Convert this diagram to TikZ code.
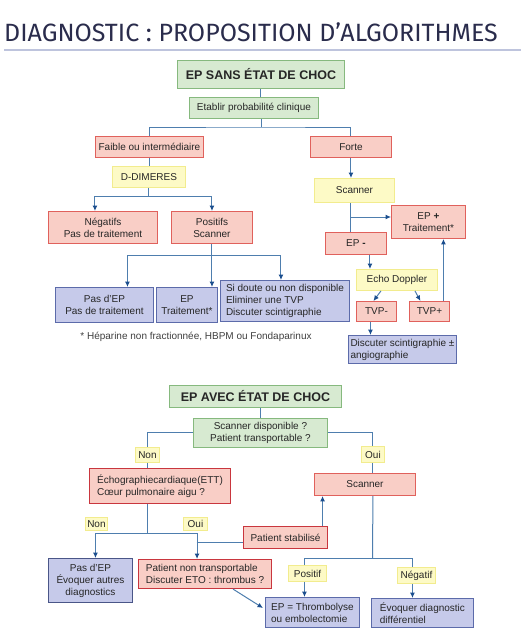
\documentclass[tikz,border=0pt]{standalone}
\usepackage{fontspec}
\setmainfont{Liberation Sans}
\newfontfamily\titrefont{Fira Sans}
\usetikzlibrary{arrows.meta, positioning, calc}

\definecolor{vertF}{HTML}{D7EAD1}
\definecolor{vertB}{HTML}{86B97E}
\definecolor{rougeF}{HTML}{F9CEC6}
\definecolor{rougeB}{HTML}{E0615C}
\definecolor{rougeD}{HTML}{C9363E}
\definecolor{jauneF}{HTML}{FDFAC6}
\definecolor{jauneB}{HTML}{F2EC8E}
\definecolor{bleuF}{HTML}{C6CAEA}
\definecolor{bleuB}{HTML}{5C6BAA}
\definecolor{lienC}{HTML}{4E7EAE}
\definecolor{flecheC}{HTML}{1B4E8E}
\definecolor{titreC}{HTML}{2A2C4C}

\begin{document}
\begin{tikzpicture}[x=1pt, y=-1pt, font=\fontsize{10}{12}\selectfont,
    boite/.style={anchor=north west, inner sep=1pt, line width=0.9pt, align=center, text=black!85},
    vert/.style={boite, draw=vertB, fill=vertF},
    rouge/.style={boite, draw=rougeB, fill=rougeF},
    rougefort/.style={boite, draw=rougeD, fill=rougeF, line width=1.1pt},
    jaune/.style={boite, draw=jauneB, fill=jauneF},
    bleu/.style={boite, draw=bleuB, fill=bleuF},
    gras/.style={font=\fontsize{12.5}{14}\selectfont\bfseries},
    lien/.style={draw=lienC, line width=1pt},
    fl/.style={lien, -{Latex[length=5.5pt, width=5pt, color=flecheC]}}]
    \useasboundingbox[fill=white] (0,0) rectangle (526,640);
    % titre
    \node[anchor=west, inner sep=0pt, text=titreC, font=\titrefont\fontsize{25}{26}\selectfont] (titre) at (4,32) {DIAGNOSTIC : PROPOSITION D’ALGORITHMES};
    \draw[line width=1.8pt, draw=bleuB!40] (titre.south west |- 0,50) -- (521,50);

    % EP sans etat de choc
    \node[vert, gras, minimum width=167, minimum height=28] (titre1) at (177,60) {EP SANS ÉTAT DE CHOC};
    \node[vert, minimum width=129, minimum height=21] (proba) at (189,97) {Etablir probabilité clinique};
    \node[rouge, minimum width=108, minimum height=21] (faible) at (95,136) {Faible ou intermédiaire};
    \node[rouge, minimum width=81, minimum height=21] (forte) at (310,136) {Forte};
    \node[jaune, minimum width=73, minimum height=21] (ddim) at (112,166) {D-DIMERES};
    \node[rouge, minimum width=109, minimum height=32] (neg) at (48,211) {Négatifs\\Pas de traitement};
    \node[rouge, minimum width=81, minimum height=32] (pos) at (171,211) {Positifs\\Scanner};
    \node[bleu, minimum width=98, minimum height=35] (pasep) at (55,287) {Pas d'EP\\Pas de traitement};
    \node[bleu, minimum width=61, minimum height=35] (eptr) at (156,287) {EP\\Traitement*};
    \node[bleu, minimum width=129, minimum height=41, align=left] (doute) at (220,280) {Si doute ou non disponible\\Eliminer une TVP\\Discuter scintigraphie};
    \node[text=black!75] (note) at (196,337) {* Héparine non fractionnée, HBPM ou Fondaparinux};
    \node[jaune, minimum width=80, minimum height=24] (scan1) at (314,178) {Scanner};
    \node[rouge, minimum width=74, minimum height=33] (epplus) at (391,205) {EP \textbf{+}\\Traitement*};
    \node[rouge, minimum width=61, minimum height=22] (epmoins) at (325,232) {EP \textbf{-}};
    \node[jaune, minimum width=81, minimum height=21] (echo) at (356,269) {Echo Doppler};
    \node[rouge, minimum width=40, minimum height=20] (tvpm) at (356,301) {TVP-};
    \node[rouge, minimum width=40, minimum height=20] (tvpp) at (409,301) {TVP+};
    \node[bleu, minimum width=108, minimum height=28, align=left] (scinti) at (348,335) {Discuter scintigraphie ±\\angiographie};

    \draw[lien] (titre1.south) -- (titre1.south |- proba.north);
    \coordinate (j1) at (261,127);
    \draw[lien] (proba.south -| j1) -- (j1);
    \draw[lien] (faible.north) |- (j1) -| (forte.north);
    \draw[fl] (forte.south) -- (forte.south |- scan1.north);
    \draw[lien] (faible.south) -- (faible.south |- ddim.north);
    \draw[fl] (ddim.south) -- ++(0,9) -| ([xshift=-8]neg.north);
    \draw[fl] (ddim.south) ++(0,9) -| (pos.north);
    \draw[fl] (pos.south) -- (pos.south |- eptr.north);
    \draw[fl] (pos.south) ++(0,12) -| ([xshift=23]pasep.north);
    \draw[fl] (pos.south) ++(0,12) -| ([xshift=-4]doute.north);
    \draw[lien] ([xshift=-4]scan1.south) -- ([xshift=-4]scan1.south |- epmoins.north);
    \coordinate (j4) at (350,217);
    \draw[fl] (j4) -- (j4 -| epplus.west);
    \draw[fl] ([xshift=14]epmoins.south) -- ([xshift=14]epmoins.south |- echo.north);
    \draw[fl] ([xshift=-16]echo.south) -- ([xshift=-3]tvpm.north);
    \draw[fl] ([xshift=18]echo.south) -- ([xshift=-9]tvpp.north);
    \draw[fl] ([xshift=14]tvpp.north) -- ([xshift=14]tvpp.north |- epplus.south);
    \draw[fl] ([xshift=-6]tvpm.south) -- ([xshift=-6]tvpm.south |- scinti.north);

    % EP avec etat de choc
    \node[vert, gras, minimum width=172, minimum height=22] (titre2) at (169,385) {EP AVEC ÉTAT DE CHOC};
    \node[vert, minimum width=134, minimum height=29] (dispo) at (193,418) {Scanner disponible ?\\Patient transportable ?};
    \node[jaune, minimum width=24, minimum height=15] (non1) at (135,447) {Non};
    \node[jaune, minimum width=23, minimum height=16] (oui1) at (361,446) {Oui};
    \node[rougefort, minimum width=141, minimum height=35, align=left] (echo2) at (89,468) {Échographiecardiaque(ETT)\\Cœur pulmonaire aigu ?};
    \node[rouge, minimum width=101, minimum height=22] (scan2) at (314,473) {Scanner};
    \node[jaune, minimum width=22, minimum height=13] (non2) at (85,517) {Non};
    \node[jaune, minimum width=24, minimum height=13] (oui2) at (183,517) {Oui};
    \node[rougefort, minimum width=84, minimum height=22] (stab) at (243,526) {Patient stabilisé};
    \node[bleu, minimum width=84, minimum height=44, draw=bleuB!80!black] (pasep2) at (48,558) {Pas d'EP\\Évoquer autres\\diagnostics};
    \node[rougefort, minimum width=133, minimum height=29, align=left] (patnt) at (138,559) {Patient non transportable\\Discuter ETO : thrombus ?};
    \node[jaune, minimum width=38, minimum height=16] (posit) at (288,565) {Positif};
    \node[jaune, minimum width=38, minimum height=16] (negat) at (397,567) {Négatif};
    \node[bleu, minimum width=94, minimum height=30, align=left] (thromb) at (265,597) {EP = Thrombolyse\\ou embolectomie};
    \node[bleu, minimum width=102, minimum height=29, align=left] (evoq) at (371,598) {Évoquer diagnostic\\différentiel};

    \draw[lien] (titre2.south -| dispo.north) -- (dispo.north);
    \draw[lien] (dispo.west) -| (non1.north);
    \draw[lien] (non1.south) -- (non1.south |- echo2.north);
    \draw[lien] (dispo.east) -| (oui1.north);
    \draw[lien] (oui1.south) -- (oui1.south |- scan2.north);
    \coordinate (j5) at (147,533);
    \draw[lien] (echo2.south -| j5) -- (j5);
    \draw[fl] (j5) -| ([xshift=5]pasep2.north);
    \draw[fl] (j5) -| ([xshift=-8]patnt.north);
    \coordinate (j6) at (196.5,542);
    \draw[lien] (j6) -- (j6 -| stab.west);
    \draw[fl] ([xshift=37]stab.north) -- ([xshift=37]stab.north |- scan2.south);
    \draw[fl] ([xshift=28]patnt.south) -- ([xshift=-2, yshift=-11pt]thromb.north west);
    \coordinate (j7) at (372.5,558);
    \draw[lien] ([xshift=8]scan2.south) -- (j7);
    \draw[lien] (j7) -| ([xshift=-3]posit.north);
    \draw[lien] (j7) -| ([xshift=-4]negat.north);
    \draw[fl] ([xshift=-3]posit.south) -- ([xshift=-3]posit.south |- thromb.north);
    \draw[fl] ([xshift=-4]negat.south) -- ([xshift=-4]negat.south |- evoq.north);
\end{tikzpicture}
\end{document}
